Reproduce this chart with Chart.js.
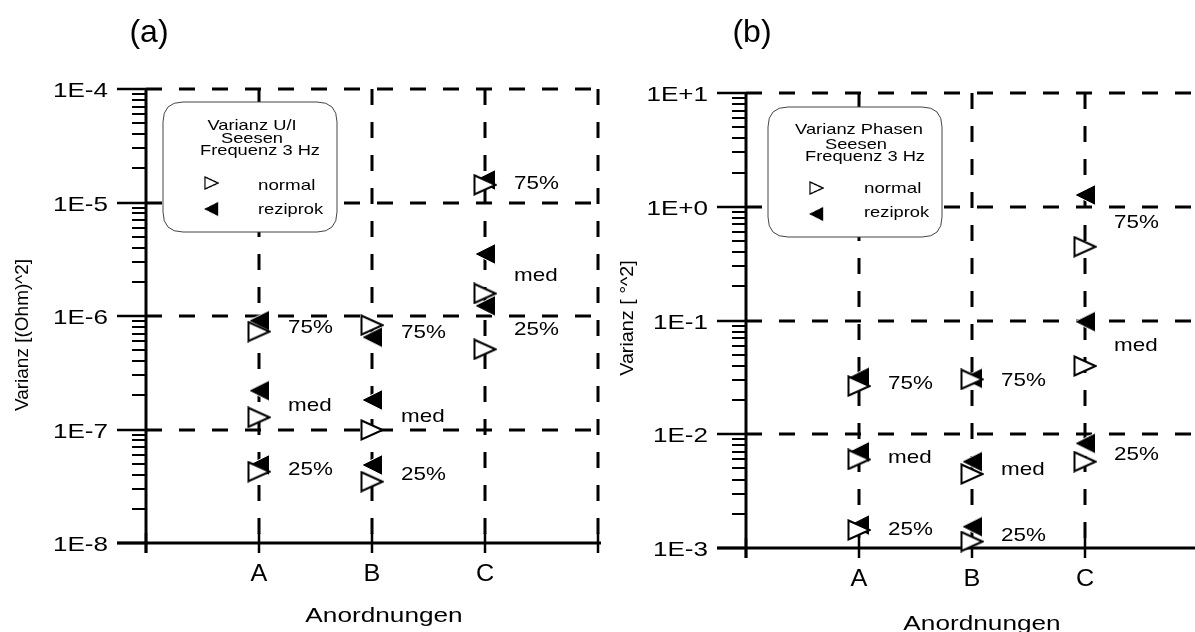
<!DOCTYPE html>
<html>
<head>
<meta charset="utf-8">
<script src="https://cdn.jsdelivr.net/npm/chart.js@4.4.1/dist/chart.umd.min.js"></script>
<style>
  html, body { margin: 0; padding: 0; background: #fff; overflow: hidden; }
  #wrap { position: relative; width: 1195px; height: 632px; overflow: hidden; }
  .panel { position: absolute; top: 0; width: 610px; height: 632px; }
</style>
</head>
<body>
<div id="wrap">
  <div class="panel" style="left:0"><canvas id="chartA"></canvas></div>
  <div class="panel" style="left:600px"><canvas id="chartB"></canvas></div>
</div>
<script>
// categories and quantile names
const categories = ['A', 'B', 'C'];
const quantLabels = ['75%', 'med', '25%'];
const seriesNames = ['normal', 'reziprok'];

// (a) Varianz U/I [(Ohm)^2]
const uiNormal75 = [7.3e-7, 8.3e-7, 1.43e-5];
const uiNormalMed = [1.28e-7, 9.9e-8, 1.58e-6];
const uiNormal25 = [4.25e-8, 3.47e-8, 5.09e-7];
const uiRezi75 = [9.1e-7, 6.5e-7, 1.58e-5];
const uiReziMed = [2.2e-7, 1.82e-7, 3.52e-6];
const uiRezi25 = [4.87e-8, 4.87e-8, 1.23e-6];
const uiTickValues = [1e-8, 1e-7, 1e-6, 1e-5, 1e-4];
const uiTickLabels = ['1E-8', '1E-7', '1E-6', '1E-5', '1E-4'];
const uiLegendTitle = ['Varianz U/I', 'Seesen', 'Frequenz 3 Hz'];

// (b) Varianz Phasen [°^2]
const phNormal75 = [2.65e-2, 3.04e-2, 0.445];
const phNormalMed = [6.0e-3, 4.47e-3, 3.98e-2];
const phNormal25 = [1.44e-3, 1.14e-3, 5.74e-3];
const phRezi75 = [3.17e-2, 3.1e-2, 1.27];
const phReziMed = [7.0e-3, 5.74e-3, 9.77e-2];
const phRezi25 = [1.59e-3, 1.54e-3, 8.32e-3];
const phTickValues = [1e-3, 1e-2, 1e-1, 1e0, 1e1];
const phTickLabels = ['1E-3', '1E-2', '1E-1', '1E+0', '1E+1'];
const phLegendTitle = ['Varianz Phasen', 'Seesen', 'Frequenz 3 Hz'];

const FONT = '"Liberation Sans", Arial, sans-serif';

function txt(ctx, s, x, y, size, sx, align, rot) {
  ctx.save();
  ctx.translate(x, y);
  if (rot) ctx.rotate(rot);
  ctx.scale(sx, 1);
  ctx.font = size + 'px ' + FONT;
  ctx.textAlign = align || 'left';
  ctx.textBaseline = 'alphabetic';
  ctx.fillStyle = '#000';
  ctx.fillText(s, 0, 0);
  ctx.restore();
}

// triangle marker images
function triangle(dir, filled, w, h) {
  const c = document.createElement('canvas');
  c.width = w; c.height = h;
  const g = c.getContext('2d');
  g.beginPath();
  if (dir === 'right') {
    g.moveTo(1.5, 1.5); g.lineTo(w - 1.5, h / 2); g.lineTo(1.5, h - 1.5);
  } else {
    g.moveTo(w - 0.5, 0.5); g.lineTo(0.5, h / 2); g.lineTo(w - 0.5, h - 0.5);
  }
  g.closePath();
  if (filled) {
    g.fillStyle = '#000'; g.fill();
    g.strokeStyle = '#fff'; g.lineWidth = 1; g.stroke();
  } else {
    g.fillStyle = '#fff'; g.fill();
    g.strokeStyle = '#000'; g.lineWidth = 2; g.stroke();
  }
  return c;
}
const openTri = triangle('right', false, 24, 22);
const fillTri = triangle('left', true, 22, 22);

function points(cols) {
  const out = [];
  cols.forEach(arr => arr.forEach((v, i) => out.push({ x: i + 1, y: v })));
  return out;
}

function roundRect(ctx, x, y, w, h, r) {
  ctx.beginPath();
  ctx.moveTo(x + r, y);
  ctx.lineTo(x + w - r, y); ctx.quadraticCurveTo(x + w, y, x + w, y + r);
  ctx.lineTo(x + w, y + h - r); ctx.quadraticCurveTo(x + w, y + h, x + w - r, y + h);
  ctx.lineTo(x + r, y + h); ctx.quadraticCurveTo(x, y + h, x, y + h - r);
  ctx.lineTo(x, y + r); ctx.quadraticCurveTo(x, y, x + r, y);
  ctx.closePath();
}

function makePanel(p) {
  const decor = {
    id: 'decor',
    beforeDatasetsDraw(chart) {
      const ctx = chart.ctx;
      const xs = chart.scales.x, ys = chart.scales.y;
      const a = chart.chartArea;
      ctx.save();
      ctx.strokeStyle = '#000';
      // dashed grid
      ctx.lineWidth = 3;
      ctx.setLineDash([16, 17]);
      p.tickValues.slice(1).forEach(v => {
        const y = Math.round(ys.getPixelForValue(v));
        ctx.beginPath(); ctx.moveTo(a.left, y); ctx.lineTo(a.right + 1, y); ctx.stroke();
      });
      [1, 2, 3, 4].forEach(v => {
        const x = Math.round(xs.getPixelForValue(v));
        ctx.beginPath(); ctx.moveTo(x, a.top); ctx.lineTo(x, a.bottom); ctx.stroke();
      });
      ctx.setLineDash([]);
      // axes
      ctx.lineWidth = 3;
      ctx.beginPath(); ctx.moveTo(a.left, a.top - 1); ctx.lineTo(a.left, a.bottom + 10); ctx.stroke();
      ctx.beginPath(); ctx.moveTo(a.left - 29, a.bottom); ctx.lineTo(p.axisEnd, a.bottom); ctx.stroke();
      ctx.lineWidth = 2.5;
      [0, 1, 2, 3, 4].forEach(v => {
        const x = Math.round(xs.getPixelForValue(v));
        ctx.beginPath(); ctx.moveTo(x, a.bottom - 10); ctx.lineTo(x, a.bottom + 10); ctx.stroke();
      });
      // y ticks, major and minor
      p.tickValues.forEach((v, i) => {
        const y = Math.round(ys.getPixelForValue(v));
        ctx.lineWidth = 2.5;
        ctx.beginPath(); ctx.moveTo(a.left - 29, y); ctx.lineTo(a.left, y); ctx.stroke();
        txt(ctx, p.tickLabels[i], a.left - 38, y + 7.5, 21, 1.24, 'right');
        if (i < p.tickValues.length - 1) {
          ctx.lineWidth = 2;
          for (let m = 2; m <= 9; m++) {
            const ym = Math.round(ys.getPixelForValue(v * m));
            ctx.beginPath(); ctx.moveTo(a.left - 14, ym); ctx.lineTo(a.left, ym); ctx.stroke();
          }
        }
      });
      // category labels
      categories.forEach((c, i) => {
        txt(ctx, c, xs.getPixelForValue(i + 1), a.bottom + 38, 24, 1.05, 'center');
      });
      // titles
      txt(ctx, p.title, p.titleX, 42, 32, 1, 'center');
      txt(ctx, 'Anordnungen', p.xTitleX, p.xTitleY, 20, 1.31, 'center');
      txt(ctx, p.yTitle, p.yTitleX, p.yTitleY, 19, p.yTitleSx, 'center', -Math.PI / 2);
      // legend box
      const b = p.box;
      roundRect(ctx, b.x, b.y, b.w, b.h, 20);
      ctx.fillStyle = '#fff'; ctx.fill();
      ctx.lineWidth = 1; ctx.strokeStyle = '#444'; ctx.stroke();
      p.legendTitle.forEach((s, i) => txt(ctx, s, p.legX[i], p.legY[i], 15, 1.22, 'center'));
      ctx.drawImage(openTri, b.triX - 7, b.normalY - 7, 15, 14);
      ctx.drawImage(fillTri, b.triX - 8, b.reziY - 8, 16, 16);
      txt(ctx, seriesNames[0], b.textX, b.normalBase, 15, 1.25, 'left');
      txt(ctx, seriesNames[1], b.textX, b.reziBase, 15, 1.22, 'left');
      ctx.restore();
    },
    afterDatasetsDraw(chart) {
      const ctx = chart.ctx;
      const xs = chart.scales.x, ys = chart.scales.y;
      quantLabels.forEach((q, qi) => {
        categories.forEach((c, ci) => {
          const mid = Math.sqrt(p.normal[qi][ci] * p.rezi[qi][ci]);
          const x = xs.getPixelForValue(ci + 1) + 29;
          const y = ys.getPixelForValue(mid) + 7;
          txt(ctx, q, x, y, 19, 1.18, 'left');
        });
      });
    }
  };

  return new Chart(document.getElementById(p.canvas), {
    type: 'scatter',
    data: {
      datasets: [
        { label: seriesNames[0], data: points(p.normal), pointStyle: openTri, pointRadius: 11, clip: false },
        { label: seriesNames[1], data: points(p.rezi), pointStyle: fillTri, pointRadius: 11, clip: false }
      ]
    },
    options: {
      responsive: true,
      maintainAspectRatio: false,
      animation: false,
      layout: { padding: { left: p.area.left, top: p.area.top, right: 610 - p.area.right, bottom: 632 - p.area.bottom } },
      scales: {
        x: { type: 'linear', min: 0, max: 4, display: false },
        y: { type: 'logarithmic', min: p.tickValues[0], max: p.tickValues[p.tickValues.length - 1], display: false }
      },
      plugins: { legend: { display: false }, tooltip: { enabled: false } }
    },
    plugins: [decor]
  });
}

makePanel({
  canvas: 'chartA',
  area: { left: 146, top: 89, right: 600, bottom: 543 },
  axisEnd: 601,
  normal: [uiNormal75, uiNormalMed, uiNormal25],
  rezi: [uiRezi75, uiReziMed, uiRezi25],
  tickValues: uiTickValues, tickLabels: uiTickLabels,
  title: '(a)', titleX: 149,
  xTitleX: 384, xTitleY: 622,
  yTitle: 'Varianz [(Ohm)^2]', yTitleX: 28, yTitleY: 335, yTitleSx: 1.0,
  legendTitle: uiLegendTitle, legX: [252, 252, 260], legY: [130, 143, 155],
  box: { x: 163, y: 102, w: 174, h: 130, triX: 211, normalY: 183, reziY: 209, textX: 258, normalBase: 190, reziBase: 214 }
});

makePanel({
  canvas: 'chartB',
  area: { left: 146, top: 93, right: 600, bottom: 548 },
  axisEnd: 610,
  normal: [phNormal75, phNormalMed, phNormal25],
  rezi: [phRezi75, phReziMed, phRezi25],
  tickValues: phTickValues, tickLabels: phTickLabels,
  title: '(b)', titleX: 152,
  xTitleX: 382, xTitleY: 630,
  yTitle: 'Varianz [ °^2]', yTitleX: 33, yTitleY: 318, yTitleSx: 1.04,
  legendTitle: phLegendTitle, legX: [259, 256, 265], legY: [134, 149, 161],
  box: { x: 168, y: 107, w: 174, h: 130, triX: 216, normalY: 188, reziY: 214, textX: 264, normalBase: 193, reziBase: 217 }
});
</script>
</body>
</html>
